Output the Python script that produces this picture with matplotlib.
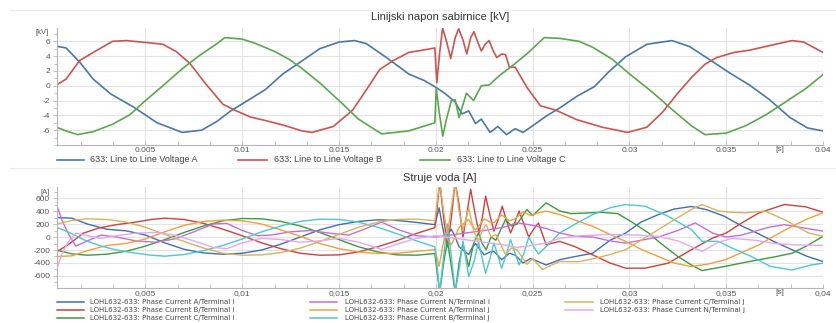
import numpy as np
import matplotlib.pyplot as plt
from matplotlib.lines import Line2D
from matplotlib.ticker import MultipleLocator, FixedLocator, FuncFormatter

plt.rcParams['font.family'] = ['Liberation Sans', 'DejaVu Sans']
plt.rcParams['axes.unicode_minus'] = False

# ---- bus line voltages [kV], time in ms ----
va_pts = [(0.4, 5.35), (0.9, 5.1), (1.6, 3.2), (2.3, 0.9), (3.2, -1.1), (4.4, -2.9), (5.6, -5.0),
          (6.9, -6.3), (7.9, -6.0), (8.7, -4.8), (9.4, -3.4), (10.4, -1.8), (11.2, -0.5), (12.1, 1.6),
          (13.0, 3.2), (14.0, 5.0), (15.0, 5.9), (15.8, 6.1), (16.4, 5.7), (17.4, 3.9), (18.6, 1.6),
          (19.4, 0.7), (20.0, -0.2), (20.5, -1.1), (21.0, -2.2), (21.35, -3.8), (21.7, -3.4),
          (22.05, -5.1), (22.35, -4.5), (22.8, -6.3), (23.2, -5.5), (23.65, -6.6), (24.1, -5.8),
          (24.5, -6.3), (24.95, -5.5), (25.7, -4.1), (26.4, -3.0), (27.3, -1.4), (28.2, -0.1),
          (28.9, 1.8), (29.8, 3.9), (30.9, 5.6), (32.2, 6.1), (33.1, 5.3), (34.1, 3.6), (35.2, 1.7),
          (36.2, 0.1), (37.2, -1.8), (38.3, -4.3), (39.2, -5.7), (40.0, -6.1)]
vb_pts = [(0.4, 0.1), (0.9, 0.9), (1.6, 3.4), (2.3, 4.5), (3.3, 6.0), (4.0, 6.1), (5.2, 5.8), (5.9, 5.6),
          (6.6, 4.6), (7.3, 3.0), (8.1, 0.3), (9.0, -2.5), (9.7, -3.4), (10.4, -4.2), (11.2, -4.7),
          (12.1, -5.3), (13.1, -6.1), (13.6, -6.3), (14.7, -5.5), (15.7, -3.3), (16.4, -0.6),
          (17.1, 2.2), (17.8, 3.4), (18.6, 4.5), (19.3, 4.8), (19.95, 5.1), (20.05, 0.4), (20.2, 4.5),
          (20.35, 7.8), (20.55, 6.0), (20.77, 3.7), (21.0, 6.5), (21.18, 7.7), (21.4, 6.2), (21.6, 4.3),
          (21.8, 6.5), (21.97, 7.3), (22.15, 6.0), (22.35, 4.7), (22.55, 5.6), (22.75, 6.1),
          (22.95, 4.8), (23.15, 3.8), (23.4, 4.3), (23.6, 4.2), (23.8, 2.5), (24.1, 2.5), (24.7, -0.2),
          (25.4, -2.7), (26.2, -3.3), (27.3, -4.6), (28.6, -5.6), (29.9, -6.3), (30.9, -5.6),
          (31.7, -3.6), (32.5, -1.0), (33.2, 1.1), (33.9, 2.9), (34.5, 3.8), (35.4, 4.5), (36.2, 4.8),
          (37.2, 5.4), (38.4, 6.1), (39.0, 5.9), (40.0, 4.5)]
vc_pts = [(0.4, -5.6), (0.9, -6.1), (1.5, -6.6), (2.3, -6.2), (3.3, -5.2), (4.2, -3.9), (5.0, -2.0),
          (5.9, 0.0), (6.9, 2.3), (7.8, 4.1), (8.7, 5.7), (9.1, 6.5), (10.0, 6.3), (10.7, 5.7),
          (11.7, 4.6), (12.4, 3.6), (13.0, 2.5), (14.0, 0.4), (15.0, -2.0), (16.0, -4.5), (17.2, -6.5),
          (18.6, -6.1), (19.95, -5.0), (20.02, -0.3), (20.17, -3.5), (20.36, -6.8), (20.55, -4.5),
          (20.8, -2.0), (21.0, -1.9), (21.2, -4.3), (21.58, -1.0), (21.95, -2.0), (22.35, 0.0),
          (22.75, 0.1), (23.3, 1.4), (24.0, 2.8), (24.7, 4.3), (25.6, 6.5), (26.4, 6.4), (27.4, 6.0),
          (28.1, 5.2), (29.1, 3.6), (30.1, 1.4), (31.2, -0.9), (32.2, -3.2), (33.2, -5.4), (33.9, -6.6),
          (35.0, -6.4), (36.0, -5.4), (37.0, -4.0), (38.0, -2.3), (39.1, -0.4), (40.0, 1.5)]

# ---- line currents [A], time in ms ----
ia_pts = [(0.4, 300), (1.2, 290), (2.0, 200), (3.0, 120), (4.0, 95), (5.0, 30), (6.0, -90), (7.0, -190),
          (8.0, -245), (9.0, -265), (10.0, -250), (11.0, -200), (12.0, -110), (13.0, 0), (14.0, 110),
          (15.0, 190), (16.0, 240), (17.0, 265), (18.0, 255), (19.0, 225), (19.95, 190), (20.17, 450),
          (20.35, 150), (20.5, -60), (20.65, 60), (20.8, 120), (21.0, 0), (21.2, -150), (21.4, -200),
          (21.7, -270), (21.9, -150), (22.05, -100), (22.3, -200), (22.5, -275), (22.8, -230),
          (23.0, -220), (23.4, -350), (23.8, -250), (24.1, -280), (24.5, -400), (24.9, -330),
          (25.3, -380), (25.7, -430), (26.4, -350), (27.2, -300), (28.1, -250), (29.0, -50), (29.8, 60),
          (30.6, 230), (31.5, 346), (32.3, 430), (33.2, 470), (34.0, 420), (34.9, 320), (35.8, 170),
          (36.6, 60), (37.4, -60), (38.4, -196), (39.2, -300), (40.0, -377)]
ib_pts = [(0.4, -230), (1.0, -120), (1.8, 60), (2.6, 140), (3.5, 190), (4.5, 230), (5.3, 270), (6.0, 290),
          (7.0, 270), (8.0, 210), (9.0, 120), (10.0, 20), (11.0, -90), (12.0, -180), (13.0, -250),
          (14.0, -280), (15.0, -275), (16.0, -230), (17.0, -150), (18.0, -55), (19.0, 55), (19.95, 145),
          (20.05, 400), (20.2, 850), (20.4, 300), (20.6, -150), (20.8, 300), (21.0, 850), (21.2, 500),
          (21.4, 0), (21.6, 350), (21.8, 735), (22.0, 400), (22.23, 62), (22.4, 300), (22.57, 630),
          (22.8, 330), (23.0, 90), (23.2, 250), (23.43, 475), (23.65, 250), (23.86, 62), (24.05, 200),
          (24.3, 400), (24.55, 200), (24.8, 0), (25.05, 120), (25.3, 217), (25.7, -120), (26.4, -67),
          (27.2, -150), (28.1, -274), (29.0, -400), (29.8, -480), (30.8, -480), (32.0, -403),
          (33.2, -196), (34.3, -15), (35.0, 62), (35.8, 217), (36.7, 372), (38.0, 500), (39.1, 465),
          (40.0, 382)]
ic_pts = [(0.4, -200), (1.2, -260), (2.0, -280), (3.0, -265), (4.0, -220), (5.0, -140), (6.0, -40),
          (7.0, 70), (8.0, 170), (9.0, 250), (10.0, 285), (11.0, 280), (12.0, 240), (13.0, 170),
          (14.0, 70), (15.0, -40), (16.0, -150), (17.0, -230), (18.0, -275), (19.0, -280), (19.95, -255),
          (20.05, -500), (20.2, -850), (20.4, -400), (20.6, -67), (20.8, -450), (21.0, -850),
          (21.2, -400), (21.4, -100), (21.7, -455), (21.95, -100), (22.2, 62), (22.4, -100), (22.6, -196),
          (22.85, 0), (23.1, -50), (23.6, 270), (23.9, 170), (24.2, 200), (24.7, 424), (25.0, 330),
          (25.7, 527), (26.4, 400), (27.0, 360), (27.8, 370), (28.6, 380), (29.4, 360), (30.2, 217),
          (31.0, 60), (31.6, -93), (32.5, -300), (33.2, -430), (33.75, -517), (34.9, -455), (35.8, -400),
          (36.7, -350), (37.6, -300), (38.4, -250), (39.2, -130), (40.0, 10)]
in_pts = [(0.4, 500), (0.7, 250), (1.0, 60), (1.4, -140), (2.0, -60), (2.7, 30), (3.5, 0), (4.5, -60),
          (5.5, -80), (6.5, -30), (7.5, 80), (8.5, 200), (9.2, 210), (10.0, 100), (10.8, 20), (11.5, 30),
          (12.5, 80), (13.5, 100), (14.5, 60), (15.5, 30), (16.3, 120), (17.2, 230), (18.0, 120),
          (19.0, 20), (20.0, 0), (20.5, 20), (21.5, 60), (22.5, 100), (23.5, 150), (24.2, 220),
          (25.0, 180), (25.7, 130), (26.4, 62), (27.2, 10), (28.1, 0), (29.0, -60), (29.8, -93),
          (30.6, -50), (31.5, 0), (32.5, 100), (33.4, 217), (34.3, 60), (35.0, 0), (35.8, 30),
          (37.2, 150), (38.0, 190), (38.8, 150), (40.0, 90)]
ja_pts = [(0.4, -300), (1.2, -290), (2.0, -210), (3.0, -130), (4.0, -100), (5.0, -30), (6.0, 80),
          (7.0, 180), (8.0, 240), (9.0, 260), (10.0, 250), (11.0, 200), (12.0, 110), (13.0, 10),
          (14.0, -100), (15.0, -180), (16.0, -230), (17.0, -255), (18.0, -250), (19.0, -220),
          (19.95, -195), (20.17, -450), (20.35, -150), (20.5, 60), (20.65, -60), (20.8, -120), (21.0, 0),
          (21.2, 150), (21.4, 200), (21.7, 270), (21.9, 160), (22.05, 110), (22.3, 200), (22.5, 280),
          (22.8, 230), (23.0, 220), (23.4, 340), (23.8, 250), (24.1, 280), (24.5, 390), (24.9, 330),
          (25.3, 370), (25.7, 400), (26.4, 346), (27.2, 260), (28.1, 165), (29.0, 40), (29.8, -67),
          (30.6, -190), (31.5, -300), (32.3, -400), (33.2, -455), (34.0, -420), (34.95, -350),
          (35.8, -240), (36.7, -120), (37.5, 20), (38.4, 165), (39.2, 280), (40.0, 372)]
jb_pts = [(0.4, 150), (1.0, 80), (1.8, -40), (2.6, -130), (3.5, -200), (4.5, -250), (5.3, -280),
          (6.0, -295), (7.0, -270), (8.0, -210), (9.0, -130), (10.0, -30), (11.0, 80), (12.0, 170),
          (13.0, 240), (14.0, 275), (15.0, 270), (16.0, 230), (17.0, 150), (18.0, 50), (19.0, -60),
          (19.95, -150), (20.05, -400), (20.2, -850), (20.4, -300), (20.6, 200), (20.8, -300),
          (21.0, -850), (21.2, -500), (21.4, -60), (21.7, -610), (22.0, -350), (22.2, -70),
          (22.57, -560), (22.8, -330), (23.0, -90), (23.4, -480), (23.65, -260), (23.86, -40),
          (24.3, -430), (24.55, -250), (24.8, 0), (25.1, -170), (25.3, -260), (25.7, -150), (26.4, 62),
          (27.2, 200), (28.1, 346), (29.0, 450), (29.8, 500), (30.8, 475), (32.0, 320), (33.2, 114),
          (33.75, -67), (34.6, -67), (35.3, -170), (36.3, -300), (37.3, -455), (38.4, -507),
          (39.4, -430), (40.0, -403)]
jc_pts = [(0.4, 200), (1.2, 255), (2.0, 280), (3.0, 270), (4.0, 230), (5.0, 150), (6.0, 40), (7.0, -70),
          (8.0, -170), (9.0, -250), (10.0, -280), (11.0, -275), (12.0, -240), (13.0, -170), (14.0, -70),
          (15.0, 40), (16.0, 150), (17.0, 230), (18.0, 270), (19.0, 275), (19.95, 250), (20.05, 500),
          (20.2, 850), (20.4, 400), (20.6, 60), (20.8, 450), (21.0, 850), (21.2, 400), (21.4, 100),
          (21.7, 450), (21.95, 100), (22.2, -60), (22.4, 100), (22.6, 190), (22.85, 0), (23.1, 40),
          (23.6, -270), (23.9, -170), (24.2, -200), (24.7, -420), (25.0, -330), (25.5, -500),
          (26.4, -377), (27.4, -380), (28.2, -330), (29.0, -270), (29.8, -196), (30.6, -50),
          (31.5, 114), (32.4, 280), (33.2, 424), (33.75, 500), (34.6, 400), (35.3, 380), (36.0, 372),
          (37.0, 400), (38.0, 270), (38.6, 170), (39.25, 62), (40.0, 10)]
jn_pts = [(0.4, -500), (0.7, -250), (1.0, -80), (1.4, 60), (2.0, 20), (2.7, -20), (3.5, 20), (4.5, 60),
          (5.5, 70), (6.5, 30), (7.5, -60), (8.5, -160), (9.2, -180), (10.0, -90), (11.0, -20),
          (12.0, -40), (13.0, -80), (14.0, -60), (15.0, -20), (16.0, -80), (17.2, -190), (18.0, -110),
          (19.0, -20), (20.0, 20), (20.5, 0), (21.5, -40), (22.5, -80), (23.5, -120), (24.2, -160),
          (25.0, -130), (25.7, -90), (26.4, -20), (27.5, 20), (29.0, 40), (30.5, 30), (31.5, 10),
          (32.5, -60), (33.75, -222), (34.6, -80), (35.3, -20), (36.5, -50), (37.5, -100), (38.5, -120),
          (40.0, -130)]

voltage_series = [
    ('633: Line to Line Voltage A', va_pts, '#4a78a8'),
    ('633: Line to Line Voltage B', vb_pts, '#cf5350'),
    ('633: Line to Line Voltage C', vc_pts, '#5aa84c'),
]
current_series = [
    ('LOHL632-633: Phase Current A/Terminal i', ia_pts, '#3f6fae'),
    ('LOHL632-633: Phase Current B/Terminal i', ib_pts, '#d13f3f'),
    ('LOHL632-633: Phase Current C/Terminal i', ic_pts, '#3d9a3d'),
    ('LOHL632-633: Phase Current N/Terminal i', in_pts, '#c46fd6'),
    ('LOHL632-633: Phase Current A/Terminal j', ja_pts, '#f0a03c'),
    ('LOHL632-633: Phase Current B/Terminal j', jb_pts, '#4cc8cf'),
    ('LOHL632-633: Phase Current C/Terminal j', jc_pts, '#d8b25e'),
    ('LOHL632-633: Phase Current N/Terminal j', jn_pts, '#e3a9ec'),
]

W, H = 836, 323


def px_rect(x0, y0, x1, y1):
    return [x0 / W, 1 - y1 / H, (x1 - x0) / W, (y1 - y0) / H]


def unpack(pts):
    t, v = zip(*pts)
    return np.array(t) / 1000.0, np.array(v)


def style_axes(ax, ylim, yticks, yminor, decimal):
    ax.set_xlim(0.00043, 0.04)
    ax.set_ylim(*ylim)
    ax.xaxis.set_major_locator(MultipleLocator(0.005))
    ax.xaxis.set_minor_locator(MultipleLocator(0.005 / 3))
    ax.yaxis.set_major_locator(FixedLocator(yticks))
    ax.yaxis.set_minor_locator(MultipleLocator(yminor))
    ax.xaxis.set_major_formatter(FuncFormatter(
        lambda v, p: ('%g' % round(v, 3)).replace('.', decimal)))
    ax.grid(which='major', color='#e3e3e3', lw=0.8)
    ax.set_axisbelow(True)
    for s in ['top', 'right']:
        ax.spines[s].set_visible(False)
    for s in ['left', 'bottom']:
        ax.spines[s].set_color('#b5b5b5')
        ax.spines[s].set_linewidth(0.8)
    ax.tick_params(which='both', colors='#b5b5b5', labelcolor='#555555', labelsize=6, width=0.6)
    ax.tick_params(axis='x', which='both', direction='in', length=3, pad=1.5)
    ax.tick_params(axis='y', which='major', length=3, pad=2)
    ax.tick_params(axis='y', which='minor', length=2)


fig = plt.figure(figsize=(W / 100, H / 100), dpi=100)

# faint panel frames
for y in (10, 168):
    fig.add_artist(Line2D([10 / W, 1], [1 - y / H] * 2, color='#ececec', lw=0.8))

ax1 = fig.add_axes(px_rect(57, 28, 823, 145))
ax2 = fig.add_axes(px_rect(57, 187, 823, 288))

for name, pts, color in voltage_series:
    t, v = unpack(pts)
    ax1.plot(t, v, color=color, lw=1.2, label=name)
for name, pts, color in current_series:
    t, v = unpack(pts)
    ax2.plot(t, v, color=color, lw=1.0, label=name)

style_axes(ax1, (-8.0, 7.8), [-6, -4, -2, 0, 2, 4, 6], 1, '.')
style_axes(ax2, (-785, 770), [-600, -400, -200, 0, 200, 400, 600], 100, ',')

# titles and unit labels
fig.text(440 / W, 1 - 17 / H, 'Linijski napon sabirnice [kV]', ha='center', va='center',
         fontsize=8, color='#333333')
fig.text(440 / W, 1 - 178 / H, 'Struje voda [A]', ha='center', va='center',
         fontsize=8, color='#333333')
fig.text(42 / W, 1 - 33 / H, '[kV]', ha='center', va='center', fontsize=5.5, color='#555555')
fig.text(45 / W, 1 - 192 / H, '[A]', ha='center', va='center', fontsize=5.5, color='#555555')
fig.text(780 / W, 1 - 149.5 / H, '[s]', ha='center', va='center', fontsize=6, color='#555555')
fig.text(780 / W, 1 - 293 / H, '[s]', ha='center', va='center', fontsize=6, color='#555555')

# legends drawn below each panel
top_slots = [(57, 84, 90, 160), (238, 267, 274, 160), (420, 450, 457, 160)]
for (x0, x1, xt, y), (name, pts, color) in zip(top_slots, voltage_series):
    fig.add_artist(Line2D([x0 / W, x1 / W], [1 - y / H] * 2, color=color, lw=1.2))
    fig.text(xt / W, 1 - y / H, name, ha='left', va='center', fontsize=6.5, color='#444444')

bot_cols = [(57, 84, 90), (310, 337, 345), (565, 593, 600)]
bot_rows = [302, 310, 318]
for k, (name, pts, color) in enumerate(current_series):
    x0, x1, xt = bot_cols[k // 3]
    y = bot_rows[k % 3]
    fig.add_artist(Line2D([x0 / W, x1 / W], [1 - y / H] * 2, color=color, lw=1.1))
    fig.text(xt / W, 1 - y / H, name, ha='left', va='center', fontsize=5,
             family='DejaVu Sans', color='#444444')

fig.savefig('out.png', dpi=100)
plt.close(fig)
